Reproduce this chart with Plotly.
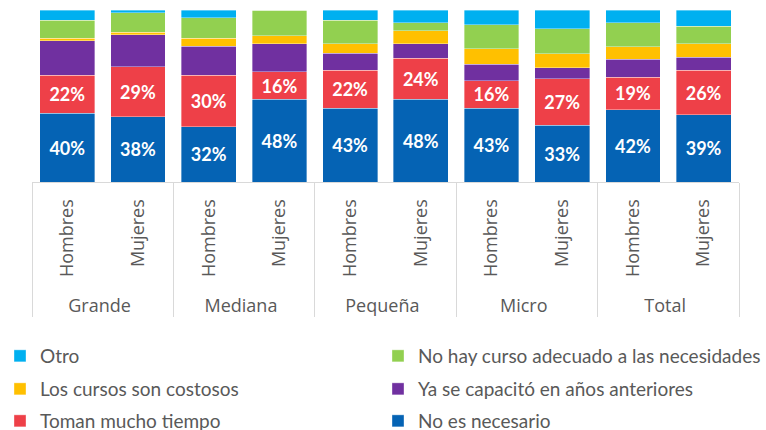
import plotly.graph_objects as go

# categories
groups = ["Grande", "Grande", "Mediana", "Mediana", "Pequeña", "Pequeña",
          "Micro", "Micro", "Total", "Total"]
sexes = ["Hombres", "Mujeres"] * 5

# series values (% of respondents), bottom to top of the stack
no_es_necesario = [40, 38, 32, 48, 43, 48, 43, 33, 42, 39]
toman_tiempo = [22, 29, 30, 16, 22, 24, 16, 27, 19, 26]
ya_capacito = [20, 18.5, 17, 16.5, 10, 8.5, 9.5, 6.5, 10.5, 7.5]
costosos = [1.5, 1.5, 4.5, 4.5, 5.5, 7.5, 9, 8, 7, 8]
no_hay_curso = [10.5, 11.5, 12, 15, 13.5, 4.5, 14, 14.5, 14, 10]
otro = [6, 1.5, 4.5, 0, 6, 7.5, 8.5, 11, 7.5, 9.5]

# name, values, colour, labelled, legend slot (row, column)
series = [
    ("No es necesario", no_es_necesario, "#0563B4", True, (2, 1)),
    ("Toman mucho tiempo", toman_tiempo, "#EE4048", True, (2, 0)),
    ("Ya se capacitó en años anteriores", ya_capacito, "#7030A0", False, (1, 1)),
    ("Los cursos son costosos", costosos, "#FFC000", False, (1, 0)),
    ("No hay curso adecuado a las necesidades", no_hay_curso, "#92D050", False, (0, 1)),
    ("Otro", otro, "#00B0F0", False, (0, 0)),
]

# a little padding under the rotated labels pushes the group row down
sex_labels = ["\u00a0\u00a0" + s for s in sexes]

row_y = [356, 389, 421]
col_x = [-6, 378]

fig = go.Figure()
legends = {}
for i, (name, vals, color, labelled, (row, col)) in enumerate(series):
    leg = "legend" if i == 0 else f"legend{i + 1}"
    legends[leg] = dict(
        orientation="h",
        xref="container",
        yref="container",
        x=col_x[col] / 766,
        y=1 - row_y[row] / 430,
        xanchor="left",
        yanchor="middle",
        font=dict(family="Lato", size=19, color="#595959"),
        bgcolor="rgba(0,0,0,0)",
    )
    fig.add_trace(go.Bar(
        x=[groups, sex_labels],
        y=vals,
        name=name,
        legend=leg,
        marker=dict(color=color, line=dict(color="rgba(255,255,255,0.45)", width=0.8)),
        text=[f"{v:.0f}%" for v in vals] if labelled else None,
        textposition="inside" if labelled else "none",
        insidetextanchor="middle",
        textfont=dict(family="Lato", size=18, color="white", weight="bold"),
        constraintext="none",
        hoverinfo="name+y",
    ))

fig.update_layout(
    barmode="stack",
    bargap=0.225,
    width=766,
    height=430,
    margin=dict(l=32, r=27, t=10, b=248),
    paper_bgcolor="white",
    plot_bgcolor="white",
    font=dict(family="Open Sans", color="#595959"),
    xaxis=dict(
        type="multicategory",
        tickangle=-90,
        tickfont=dict(family="Open Sans", size=18, color="#595959"),
        ticklabelstandoff=9,
        showline=True,
        linecolor="#D9D9D9",
        linewidth=1,
        showdividers=True,
        dividercolor="#D9D9D9",
        dividerwidth=1,
        ticks="",
    ),
    yaxis=dict(range=[0, 100], visible=False),
    showlegend=True,
    **legends,
)

fig.write_html("out.html", config={"displayModeBar": False},
               post_script="document.body.style.margin = '0';")
